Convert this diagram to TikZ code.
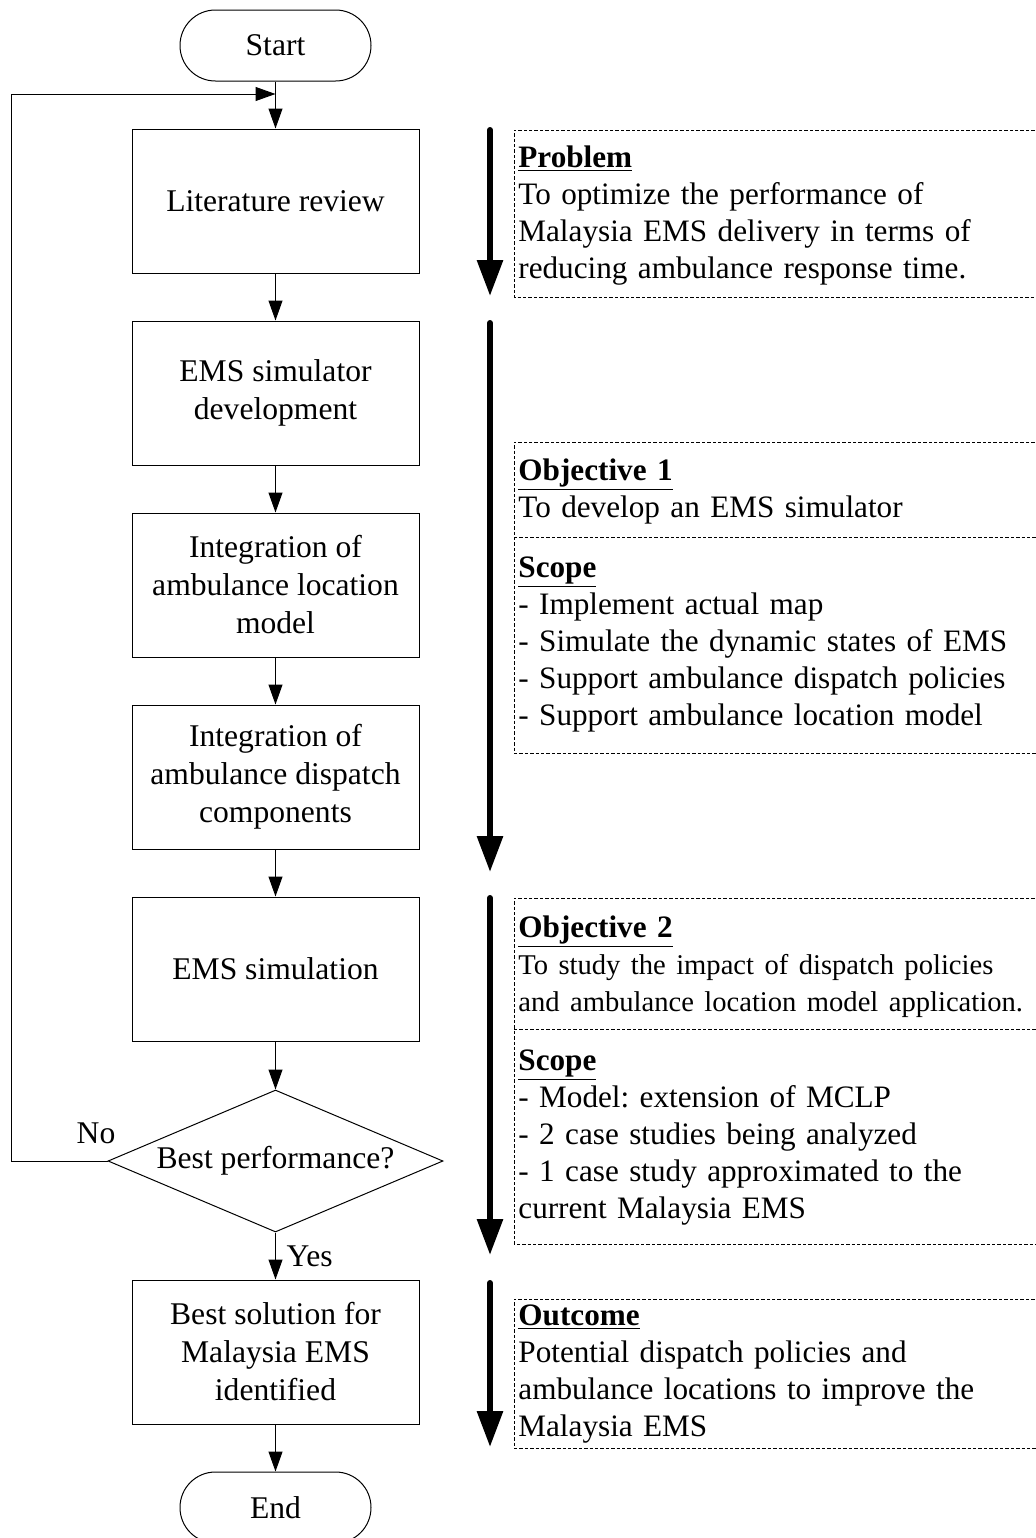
\documentclass[tikz,border=0pt]{standalone}
\usepackage{fontspec}
\setmainfont{Liberation Serif}
\usetikzlibrary{arrows.meta,shapes.geometric}
\frenchspacing

\tikzset{
  stepbox/.style={draw, line width=0.5pt, minimum width=143.5pt, minimum height=72pt,
    align=center, font=\fontsize{15.8}{19}\selectfont},
  termbox/.style={draw, line width=0.5pt, rounded corners=17.7pt, minimum width=95.5pt,
    minimum height=35.5pt, font=\fontsize{15.8}{19}\selectfont},
  decision/.style={draw, diamond, shape aspect=2.36, line width=0.5pt, minimum width=167.5pt,
    minimum height=71pt, inner sep=0pt, font=\fontsize{15.8}{19}\selectfont},
  flow/.style={line width=0.5pt, -{Triangle[length=10pt,width=7pt]}},
  phase/.style={line width=3pt, line cap=round, -{Triangle[length=18pt,width=12.5pt]}},
  panel/.style={line width=0.5pt, dash pattern=on 1.7pt off 1pt},
  info/.style={anchor=base west, inner sep=0pt, text width=262pt, align=left,
    font=\fontsize{15.6}{18.5}\selectfont},
  tag/.style={anchor=base, inner sep=0pt, font=\fontsize{15.8}{19}\selectfont},
}
\newcommand{\panelhead}[1]{\underline{\textbf{#1}}}

\begin{document}
\begin{tikzpicture}[x=0.5pt, y=-0.5pt]
\useasboundingbox (0,0) rectangle (1035,1538);

% Flow chart.
\node[termbox] (start) at (275.5,45.5) {Start};
\node[stepbox] (review) at (275.5,201) {Literature review};
\node[stepbox] (simdev) at (275.5,393) {EMS simulator\\development};
\node[stepbox] (locmodel) at (275.5,585) {Integration of\\ambulance location\\model};
\node[stepbox] (dispatch) at (275.5,777) {Integration of\\ambulance dispatch\\components};
\node[stepbox] (sim) at (275.5,969) {EMS simulation};
\node[decision] (best) at (275.5,1161) {Best performance?};
\node[stepbox] (solution) at (275.5,1352) {Best solution for\\Malaysia EMS\\identified};
\node[termbox] (stop) at (275.5,1507.5) {End};

\coordinate (merge) at (275.5,94);

\draw[flow] (start) -- (review);
\draw[flow] (review) -- (simdev);
\draw[flow] (simdev) -- (locmodel);
\draw[flow] (locmodel) -- (dispatch);
\draw[flow] (dispatch) -- (sim);
\draw[flow] (sim) -- (best);
\draw[flow] (best) -- (solution) node[midway, right, xshift=2pt, font=\fontsize{15.8}{19}\selectfont] {Yes};
\draw[flow] (solution) -- (stop);

% Back to the review.
\draw[flow] (best.west) -- ++(-96,0) |- (merge);
\node[tag] (nolabel) at (96,1143) {No};

% Phase arrows.
\draw[phase] (490,130) -- (490,296);
\draw[phase] (490,323) -- (490,872);
\draw[phase] (490,898) -- (490,1255);
\draw[phase] (490,1283) -- (490,1447);

% Problem.
\draw[panel] (1040,130) -| (514,297) -- (1040,297);
\node[info] (problem) at (518,167) {\panelhead{Problem}\\To optimize the performance of\\Malaysia EMS delivery in terms of\\reducing ambulance response time.};

% Objective 1.
\draw[panel] (1040,442) -| (514,753) -- (1040,753);
\draw[panel] (514,537) -- (1040,537);
\node[info] (obj1) at (518,480) {\panelhead{Objective 1}\\To develop an EMS simulator};
\node[info] (scope1) at (518,577) {\panelhead{Scope}\\- Implement actual map\\- Simulate the dynamic states of EMS\\- Support ambulance dispatch policies\\- Support ambulance location model};

% Objective 2.
\draw[panel] (1040,898) -| (514,1244) -- (1040,1244);
\draw[panel] (514,1029) -- (1040,1029);
\node[info] (obj2) at (518,937) {\panelhead{Objective 2}\\{\fontsize{14.3}{18.5}\selectfont To study the impact of dispatch policies\\and ambulance location model application.}};
\node[info] (scope2) at (518,1070) {\panelhead{Scope}\\- Model: extension of MCLP\\- 2 case studies being analyzed\\- 1 case study approximated to the\\current Malaysia EMS};

% Outcome.
\draw[panel] (1040,1299) -| (514,1448) -- (1040,1448);
\node[info] (outcome) at (518,1325) {\panelhead{Outcome}\\Potential dispatch policies and\\ambulance locations to improve the\\Malaysia EMS};
\end{tikzpicture}
\end{document}
